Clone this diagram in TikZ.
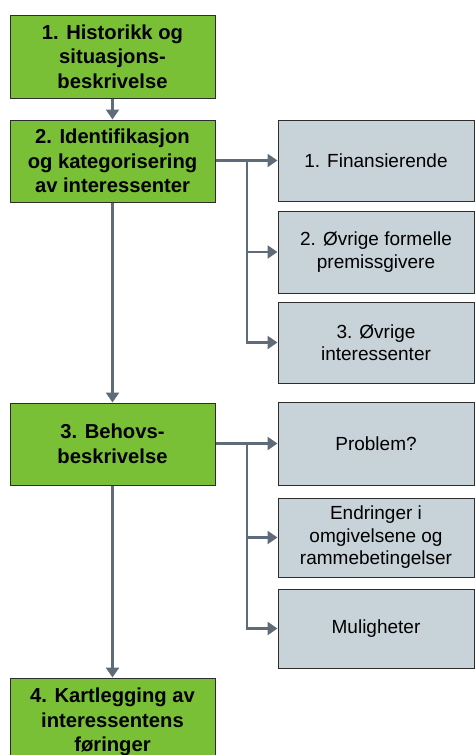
\documentclass[tikz,border=0pt]{standalone}
\usepackage{fontspec}
\setmainfont{Liberation Sans}
\usetikzlibrary{arrows.meta}
\definecolor{leafgreen}{RGB}{122, 192, 54}
\definecolor{mistgrey}{RGB}{200, 210, 217}
\definecolor{slate}{RGB}{95, 107, 120}
\definecolor{edge}{RGB}{45, 45, 45}

\begin{document}
\begin{tikzpicture}[x=1pt, y=-1pt,
    stepbox/.style={draw=edge, line width=1pt, fill=leafgreen, minimum width=205pt, minimum height=82pt,
                    align=center, font=\fontsize{20.2}{24.5}\selectfont\bfseries, inner sep=0pt},
    subbox/.style={draw=edge, line width=1pt, fill=mistgrey, minimum width=196pt, minimum height=81pt,
                   align=center, font=\fontsize{19}{22.5}\selectfont, inner sep=0pt},
    conn/.style={draw=slate, line width=2.6pt, -{Triangle[length=10pt, width=13pt]}}]
            \useasboundingbox (0,0) rectangle (475,755);
            \clip (0,0) rectangle (475,755);
            % main steps
            \node[stepbox, minimum height=83pt] (hist)  at (112.5, 56.5) {1. Historikk og\\situasjons-\\beskrivelse};
            \node[stepbox]                      (ident) at (112.5,161.0) {2. Identifikasjon\\og kategorisering\\av interessenter};
            \node[stepbox]                      (behov) at (112.5,444.0) {3. Behovs-\\beskrivelse};
            \node[stepbox, minimum height=88pt] (kart)  at (112.5,722.0) {4. Kartlegging av\\interessentens\\føringer};
            % interessenter
            \node[subbox]                       (fin)   at (376.0,160.5) {1. Finansierende};
            \node[subbox, minimum height=82pt]  (prem)  at (376.0,252.0) {2. Øvrige formelle\\premissgivere};
            \node[subbox]                       (other) at (376.0,342.5) {3. Øvrige\\interessenter};
            % behov
            \node[subbox, minimum height=83pt]  (prob)  at (376.0,443.5) {Problem?};
            \node[subbox, minimum height=79pt]  (endr)  at (376.0,537.5) {Endringer i\\omgivelsene og\\rammebetingelser};
            \node[subbox, minimum height=79pt]  (mul)   at (376.0,628.5) {Muligheter};
            \coordinate (forkA) at (247,160.5);
            \coordinate (forkB) at (247,443.5);
            % connectors
            \draw[conn] (hist)  -- (ident);
            \draw[conn] (ident) -- (behov);
            \draw[conn] (behov) -- (kart);
            \draw[conn] (ident.east |- fin.west) -- (fin.west);
            \draw[conn] (forkA) |- (prem.west);
            \draw[conn] (forkA) |- (other.west);
            \draw[conn] (behov.east |- prob.west) -- (prob.west);
            \draw[conn] (forkB) |- (endr.west);
            \draw[conn] (forkB) |- (mul.west);
        \end{tikzpicture}
\end{document}
